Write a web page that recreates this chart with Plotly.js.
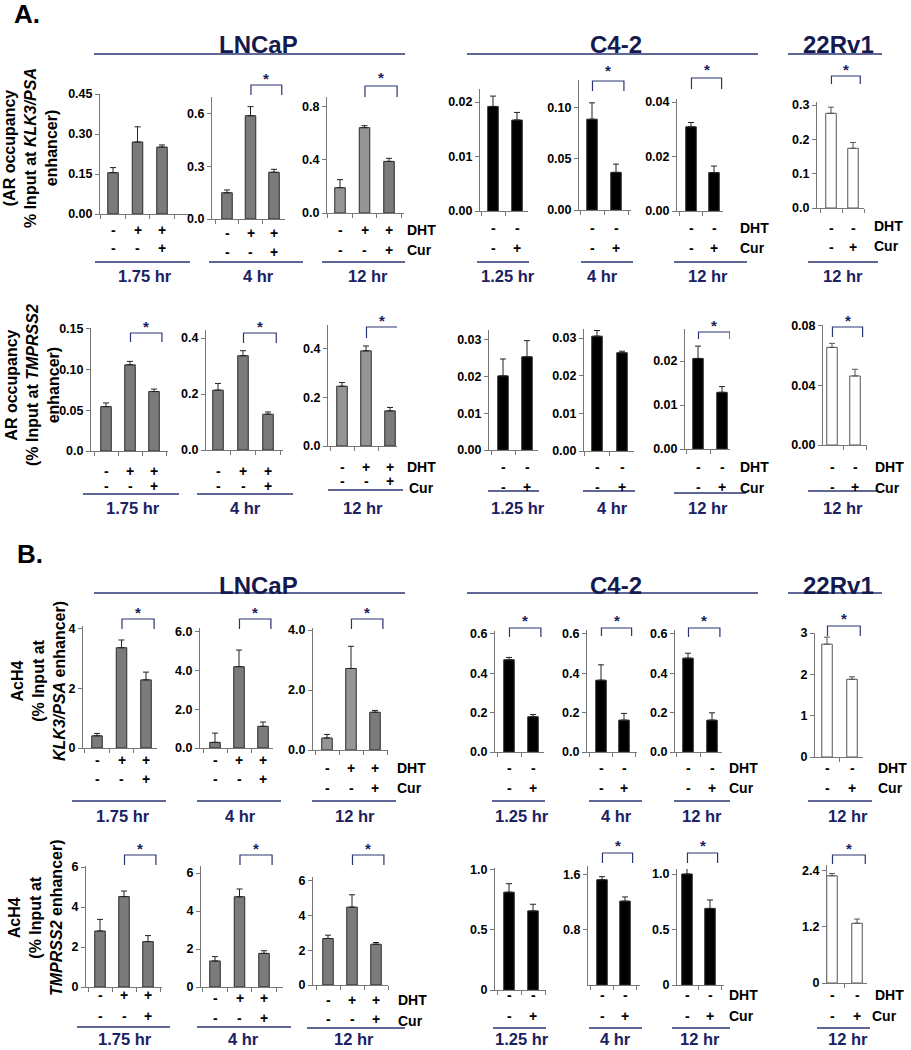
<!DOCTYPE html>
<html><head><meta charset="utf-8">
<script src="https://cdn.plot.ly/plotly-3.0.1.min.js"></script>
<style>html,body{margin:0;padding:0;background:#fff}#chart{width:911px;height:1050px}</style>
</head><body><div id="chart"></div>
<script>
// ================= DATA =================
const cellLines = ['LNCaP', 'C4-2', '22Rv1'];
const timePoints = ['1.75 hr', '4 hr', '12 hr', '1.25 hr', '4 hr', '12 hr', '12 hr'];
const dhtLNCaP = ['-', '+', '+'];
const curLNCaP = ['-', '-', '+'];
const dhtOther = ['-', '-'];
const curOther = ['-', '+'];
const panelLetters = ['A.', 'B.'];

// A: AR occupancy at KLK3/PSA enhancer
const arKlk3Mean = [[0.155, 0.27, 0.251], [0.15, 0.59, 0.267], [0.19, 0.64, 0.387], [0.0192, 0.0167], [0.0887, 0.0368], [0.0309, 0.0141], [0.276, 0.174]];
const arKlk3Err  = [[0.019, 0.057, 0.008], [0.016, 0.052, 0.017], [0.06, 0.015, 0.023], [0.0019, 0.0014], [0.016, 0.008], [0.0016, 0.0024], [0.018, 0.017]];
const arKlk3Ticks = [['0.00', '0.15', '0.30', '0.45'], ['0.0', '0.3', '0.6'], ['0.0', '0.4', '0.8'], ['0.00', '0.01', '0.02'], ['0.00', '0.05', '0.10'], ['0.00', '0.02', '0.04'], ['0.0', '0.1', '0.2', '0.3']];
const arKlk3Sig = [null, [1, 2], [1, 2], null, [0, 1], [0, 1], [0, 1]];

// A: AR occupancy at TMPRSS2 enhancer
const arTmpMean = [[0.0545, 0.1058, 0.073], [0.214, 0.337, 0.128], [0.245, 0.39, 0.144], [0.0202, 0.0254], [0.0305, 0.0261], [0.0206, 0.0129], [0.0655, 0.0463]];
const arTmpErr  = [[0.0045, 0.0042, 0.003], [0.024, 0.018, 0.008], [0.015, 0.02, 0.014], [0.0046, 0.0044], [0.0015, 0.0004], [0.0028, 0.0013], [0.0027, 0.0045]];
const arTmpTicks = [['0.0', '0.05', '0.10', '0.15'], ['0.0', '0.2', '0.4'], ['0.0', '0.2', '0.4'], ['0.00', '0.01', '0.02', '0.03'], ['0.00', '0.01', '0.02', '0.03'], ['0.00', '0.01', '0.02'], ['0.00', '0.04', '0.08']];
const arTmpSig = [[1, 2], [1, 2], [1, 2], null, null, [0, 1], [0, 1]];

// B: AcH4 at KLK3/PSA enhancer
const achKlk3Mean = [[0.41, 3.37, 2.29], [0.29, 4.2, 1.12], [0.4, 2.72, 1.26], [0.468, 0.179], [0.365, 0.162], [0.477, 0.162], [2.73, 1.88]];
const achKlk3Err  = [[0.08, 0.26, 0.26], [0.48, 0.86, 0.22], [0.12, 0.74, 0.06], [0.012, 0.011], [0.078, 0.034], [0.025, 0.037], [0.17, 0.06]];
const achKlk3Ticks = [['0', '2', '4'], ['0.0', '2.0', '4.0', '6.0'], ['0.0', '2.0', '4.0'], ['0.0', '0.2', '0.4', '0.6'], ['0.0', '0.2', '0.4', '0.6'], ['0.0', '0.2', '0.4', '0.6'], ['0', '1', '2', '3']];
const achKlk3Sig = [[1, 2], [1, 2], [1, 2], [0, 1], [0, 1], [0, 1], [0, 1]];

// B: AcH4 at TMPRSS2 enhancer
const achTmpMean = [[2.8, 4.52, 2.27], [1.37, 4.75, 1.77], [2.67, 4.47, 2.34], [0.81, 0.655], [1.53, 1.22], [1.0, 0.69], [2.28, 1.27]];
const achTmpErr  = [[0.58, 0.28, 0.3], [0.23, 0.41, 0.14], [0.19, 0.71, 0.1], [0.07, 0.055], [0.045, 0.06], [0.07, 0.076], [0.05, 0.09]];
const achTmpTicks = [['0', '2', '4', '6'], ['0', '2', '4', '6'], ['0', '2', '4', '6'], ['0', '0.5', '1.0'], ['0.8', '1.6'], ['0', '0.5', '1.0'], ['0', '1.2', '2.4']];
const achTmpSig = [[1, 2], [1, 2], [1, 2], null, [0, 1], [0, 1], [0, 1]];

const yTitles = [
  '(AR occupancy<br>% Input at <i>KLK3/PSA</i><br>enhancer)',
  'AR occupancy<br>(% Input at <i>TMPRSS2</i><br>enhancer)',
  'AcH4<br>(% Input at<br><i>KLK3/PSA</i> enhancer)',
  'AcH4<br>(% Input at<br><i>TMPRSS2</i> enhancer)'
];

// ================= LAYOUT GEOMETRY (pixels) =================
const W = 911, H = 1050;
const FONT = 'Arial, "Liberation Sans", sans-serif';
const NAVY = '#1b2163';
// panel: [yAxisX, xAxisEndX, firstBarX, barSpacing, zeroY, topY, yMax]
const geom = [
  { panels: [[100,192,113,24.5,214,94,0.45],[212,285,227,23.5,219,97,0.697],[327,404,340,24.5,213,97,0.87],[480,528,493,24,211,89,0.0224],[579,631,592,24,210,80,0.127],[677,723,691,23,211,99,0.0411],[817,864,831,22,208,102,0.309]],
    signY: [[230,248],[233,252],[230,250],[228,248],[228,248],[228,248],[228,247]],
    brk: [null,[85,95,79],[86,97,77],null,[81,91,71],[78,89,70],[76,84,69]],
    lines: [[95,190,262],[209,303,262],[322,405,262],[477,529,262],[581,633,262],[674,747,262],[808,878,262]],
    timeX: [145,258,368,508,602,708,843], timeY: 276,
    labels: [[405,230,405,250],[738,228,738,248],[872,226,872,246]],
    ytitle: [30,148] },
  { panels: [[91,168,106,24,451,328,0.151],[206,283,218,25,450,330,0.429],[328,397,342,24,446,325,0.496],[489,538,503,24,450,330,0.0327],[584,634,597,25,451,329,0.0324],[685,730,698,24,449,329,0.0273],[823,867,832,23,445,325,0.0805]],
    signY: [[471,486],[471,486],[467,481],[467,487],[467,487],[467,487],[467,487]],
    brk: [[333,342,326],[333,343,326],[327,338,320],null,null,[332,339,325],[327,337,320]],
    lines: [[83,179,494],[197,293,494],[328,403,490],[488,539,491],[583,635,491],[674,746,493],[808,878,491]],
    timeX: [133,245,363,518,612,708,843], timeY: 508,
    labels: [[405,467,407,488],[738,467,738,488],[873,467,873,488]],
    ytitle: [32,385] },
  { panels: [[83,157,97,24.5,748,626,4.1],[200,273,215,24,748,628,6.2],[313,388,327,24,750,628,4.07],[495,544,509,24,752,631,0.614],[587,637,601,23,752,630,0.62],[675,722,688,24,752,630,0.62],[815,863,827,25,757,633,3.0]],
    signY: [[760,779],[760,779],[768,788],[768,788],[768,788],[768,788],[768,788]],
    brk: [[619,629,612],[619,629,612],[619,629,612],[628,637,620],[628,636,620],[628,637,620],[626,636,618]],
    lines: [[72,166,801],[197,281,801],[312,396,801],[492,545,801],[589,642,801],[674,730,801],[808,872,801]],
    timeX: [123,240,355,522,616,702,848], timeY: 816,
    labels: [[395,768,395,788],[727,768,727,788],[876,768,876,788]],
    ytitle: [38,681] },
  { panels: [[86,162,100,24,987,866,6.05],[201,283,215,24.5,987,866,6.37],[313,388,328,24,985,877,6.2],[495,546,509,24,990,868,1.01],[588,640,602,23,985,866,1.73],[677,724,687,23,985,869,1.045],[827,867,832,25,983,865,2.51]],
    signY: [[995,1016],[998,1018],[1000,1019],[995,1016],[995,1016],[995,1016],[995,1016]],
    brk: [[855,865,848],[855,865,848],[855,865,848],null,[853,863,845],[853,863,845],[855,864,848]],
    lines: [[77,170,1027],[197,291,1027],[307,405,1028],[493,546,1028],[589,642,1028],[672,730,1028],[817,870,1028]],
    timeX: [125,243,354,522,615,700,848], timeY: 1039,
    labels: [[396,1000,396,1021],[727,995,727,1016],[873,995,870,1016]],
    ytitle: [35,918] }
];
const groupTitles = [ { y: 45, lineY: 54 }, { y: 585, lineY: 593 } ];
const groupX = [[258, 94, 405], [616, 467, 758], [838, 788, 882]];
const letterPos = [[27, 14], [30, 554]];

const rows = [
  { mean: arKlk3Mean, err: arKlk3Err, ticks: arKlk3Ticks, sig: arKlk3Sig },
  { mean: arTmpMean, err: arTmpErr, ticks: arTmpTicks, sig: arTmpSig },
  { mean: achKlk3Mean, err: achKlk3Err, ticks: achKlk3Ticks, sig: achKlk3Sig },
  { mean: achTmpMean, err: achTmpErr, ticks: achTmpTicks, sig: achTmpSig }
];

const px = x => x / W;
const py = y => 1 - y / H;

function barFill(r, p, i) {
  if (p >= 6) return '#ffffff';
  if (p >= 3) return '#000000';
  if (p === 2 && i < 2 && r !== 3) return '#959595';
  return '#7b7b7b';
}

const data = [];
const annotations = [];
const shapes = [];
const layout = {
  width: W, height: H,
  margin: { l: 0, r: 0, t: 0, b: 0 },
  paper_bgcolor: '#fff', plot_bgcolor: 'rgba(0,0,0,0)',
  showlegend: false,
  font: { family: FONT, color: '#000' }
};

function ann(o) {
  return Object.assign({ showarrow: false, xanchor: 'center', yanchor: 'middle' }, o);
}

let k = 0;
rows.forEach((row, r) => {
  const g = geom[r];
  row.mean.forEach((vals, p) => {
    k++;
    const sfx = k === 1 ? '' : String(k);
    const xa = 'x' + sfx, ya = 'y' + sfx;
    const [x0, x1, b0, s, y0, ytop, ymax] = g.panels[p];
    const n = vals.length;
    const xs = vals.map((_, i) => i);
    const outline = p >= 6 ? '#555' : '#2a2a2a';
    data.push({
      type: 'bar', x: xs, y: vals, xaxis: xa, yaxis: ya,
      width: 10.5 / s,
      marker: { color: xs.map(i => barFill(r, p, i)), line: { color: outline, width: 1 } },
      error_y: { type: 'data', symmetric: false, array: row.err[p], arrayminus: vals.map(() => 0),
                 color: p >= 6 ? '#555' : '#222', thickness: 1, width: 3 },
      cliponaxis: false, hoverinfo: 'skip', showlegend: false
    });
    const xt = [-0.5]; for (let i = 0; i < n; i++) xt.push(i + 0.5);
    layout['xaxis' + sfx] = {
      domain: [px(x0), px(x1)], range: [(x0 - b0) / s, (x1 - b0) / s], anchor: ya,
      showline: true, linecolor: '#777', linewidth: 1, ticks: 'outside', ticklen: 4, tickcolor: '#777',
      tickvals: xt, showticklabels: false, showgrid: false, zeroline: false, fixedrange: true
    };
    const tk = row.ticks[p];
    layout['yaxis' + sfx] = {
      domain: [py(y0), py(ytop)], range: [0, ymax], anchor: xa,
      showline: true, linecolor: '#777', linewidth: 1, ticks: 'outside', ticklen: 4, tickcolor: '#777',
      tickvals: tk.map(parseFloat), ticktext: tk,
      tickfont: { family: FONT, size: 12.5, color: '#000', weight: 700 },
      showgrid: false, zeroline: false, fixedrange: true
    };
    // treatment signs
    const dht = n === 3 ? dhtLNCaP : dhtOther;
    const cur = n === 3 ? curLNCaP : curOther;
    xs.forEach(i => {
      annotations.push(ann({ xref: xa, yref: 'paper', x: i, y: py(g.signY[p][0]), text: dht[i],
        font: { family: FONT, size: 14, weight: 700, color: '#000' } }));
      annotations.push(ann({ xref: xa, yref: 'paper', x: i, y: py(g.signY[p][1]), text: cur[i],
        font: { family: FONT, size: 14, weight: 700, color: '#000' } }));
    });
    // significance bracket
    const sg = row.sig[p];
    const bk = g.brk[p];
    if (sg && bk) {
      const xl = sg[0] + 0.02, xr = sg[1] + 0.33;
      shapes.push({ type: 'path', xref: xa, yref: 'paper',
        path: `M ${xl},${py(bk[1])} L ${xl},${py(bk[0])} L ${xr},${py(bk[0])} L ${xr},${py(bk[1])}`,
        line: { color: '#2b3475', width: 1.2 } });
      annotations.push(ann({ xref: xa, yref: 'paper', x: (xl + xr) / 2, y: py(bk[2]), text: '*',
        font: { family: FONT, size: 15, weight: 700, color: NAVY } }));
    }
    // time underline and label
    const ln = g.lines[p];
    shapes.push({ type: 'line', xref: 'paper', yref: 'paper', x0: px(ln[0]), x1: px(ln[1]), y0: py(ln[2]), y1: py(ln[2]),
      line: { color: '#2b3475', width: 1.3 } });
    annotations.push(ann({ xref: 'paper', yref: 'paper', x: px(g.timeX[p]), y: py(g.timeY), text: timePoints[p],
      font: { family: FONT, size: 16.5, weight: 700, color: NAVY } }));
  });
  // DHT / Cur row labels
  g.labels.forEach(L => {
    annotations.push(ann({ xref: 'paper', yref: 'paper', x: px(L[0]), y: py(L[1]), xanchor: 'left', text: 'DHT',
      font: { family: FONT, size: 14, weight: 700, color: '#000' } }));
    annotations.push(ann({ xref: 'paper', yref: 'paper', x: px(L[2]), y: py(L[3]), xanchor: 'left', text: 'Cur',
      font: { family: FONT, size: 14, weight: 700, color: '#000' } }));
  });
  // y title
  annotations.push(ann({ xref: 'paper', yref: 'paper', x: px(g.ytitle[0]), y: py(g.ytitle[1]), text: yTitles[r], textangle: -90,
    align: 'center', font: { family: FONT, size: 16, weight: 700, color: '#000' } }));
});

// group titles and letters
groupTitles.forEach((gt, gi) => {
  cellLines.forEach((c, ci) => {
    const [cx, lx0, lx1] = groupX[ci];
    annotations.push(ann({ xref: 'paper', yref: 'paper', x: px(cx), y: py(gt.y), text: c,
      font: { family: FONT, size: 24, weight: 700, color: '#141a4f' } }));
    shapes.push({ type: 'line', xref: 'paper', yref: 'paper', x0: px(lx0), x1: px(lx1), y0: py(gt.lineY), y1: py(gt.lineY),
      line: { color: '#2b3475', width: 1.4 } });
  });
  annotations.push(ann({ xref: 'paper', yref: 'paper', x: px(letterPos[gi][0]), y: py(letterPos[gi][1]), text: panelLetters[gi],
    font: { family: FONT, size: 26, weight: 700, color: '#000' } }));
});

layout.annotations = annotations;
layout.shapes = shapes;
Plotly.newPlot('chart', data, layout, { staticPlot: true, displayModeBar: false });
</script>
</body></html>
